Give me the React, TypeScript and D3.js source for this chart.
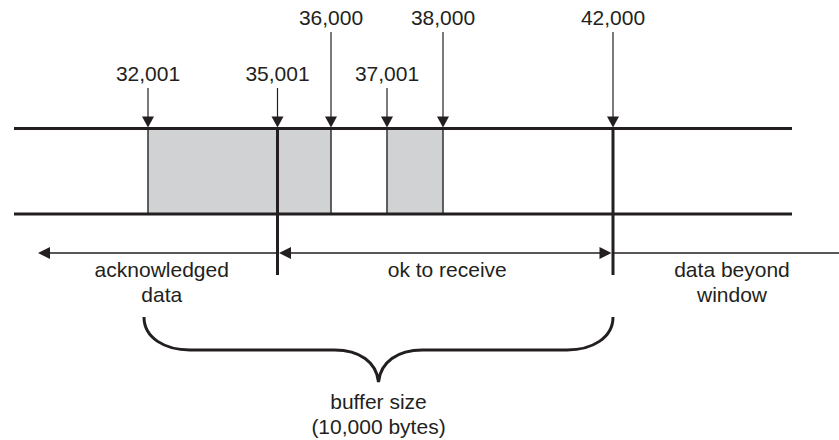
import React from "react";
import * as d3 from "d3";

// ---- data ----
const markerValues = [32001, 35001, 36000, 37001, 38000, 42000];
const markerLabels = ["32,001", "35,001", "36,000", "37,001", "38,000", "42,000"];
const markerTier = [0, 0, 1, 0, 1, 1]; // 0 = lower label row, 1 = upper label row
const receivedSegments: [number, number][] = [
  [32001, 36000],
  [37001, 38000],
];
const windowEdges = [35001, 42000];
const regionLabels = [["acknowledged", "data"], ["ok to receive"], ["data beyond", "window"]];
const braceSpan: [number, number] = [32001, 42000];
const braceLabel = ["buffer size", "(10,000 bytes)"];

// ---- layout ----
const W = 839;
const H = 440;
const INK = "#231f20";
const FILL = "#d1d2d4";
const FONT = "'Liberation Sans', Arial, Helvetica, sans-serif";
const FS = 21;

// diagram is not drawn to scale: piecewise linear scale through the marker stops
const x = d3
  .scaleLinear<number, number>()
  .domain(markerValues)
  .range([148, 277.5, 331, 387, 443, 613]);

const yTop = 128.5;
const yBot = 214;
const lineX0 = 14;
const lineX1 = 792;
const yArrowRow = 253;
const leftTip = 38;
const labelRowY = [81, 25];
const arrowStartY = [88, 32];

function downHead(cx: number, tipY: number) {
  const p = d3.path();
  p.moveTo(cx - 6, tipY - 11);
  p.lineTo(cx + 6, tipY - 11);
  p.lineTo(cx, tipY);
  p.closePath();
  return p.toString();
}
function sideHead(tipX: number, cy: number, dir: number) {
  // dir = -1 points left, +1 points right
  const p = d3.path();
  p.moveTo(tipX, cy);
  p.lineTo(tipX - dir * 12, cy - 6);
  p.lineTo(tipX - dir * 12, cy + 6);
  p.closePath();
  return p.toString();
}

function bracePath(x0: number, x1: number) {
  const yS = 317;
  const yH = 350;
  const yTip = 382;
  const xm = (x0 + x1) / 2;
  const p = d3.path();
  p.moveTo(x0, yS);
  p.bezierCurveTo(x0, yS + 21, x0 + 21, yH, x0 + 46, yH);
  p.lineTo(xm - 44, yH);
  p.bezierCurveTo(xm - 19, yH, xm - 2, yH + 12, xm, yTip);
  p.bezierCurveTo(xm + 2, yH + 12, xm + 19, yH, xm + 44, yH);
  p.lineTo(x1 - 46, yH);
  p.bezierCurveTo(x1 - 21, yH, x1, yS + 21, x1, yS);
  return p.toString();
}

export default function App() {
  const xa = x(windowEdges[0]);
  const xb = x(windowEdges[1]);
  const regionCenters = [(leftTip + xa) / 2 + 4, (xa + xb) / 2 + 2, (xb + W + 12) / 2];
  const braceX0 = x(braceSpan[0]) - 4;
  const braceX1 = x(braceSpan[1]);
  const braceMid = (braceX0 + braceX1) / 2;

  return (
    <svg
      width={W}
      height={H}
      style={{ position: "absolute", left: 0, top: 0, background: "#fff" }}
      fontFamily={FONT}
      fontSize={FS}
    >
      <rect x={0} y={0} width={W} height={H} fill="#fff" />
      {/* received segments */}
      {receivedSegments.map(([a, b], i) => (
        <g key={"seg" + i}>
          <rect x={x(a)} y={yTop} width={x(b) - x(a)} height={yBot - yTop} fill={FILL} />
          <line x1={x(a)} x2={x(a)} y1={yTop} y2={yBot} stroke="#3c3a3b" strokeWidth={1.6} />
          <line x1={x(b)} x2={x(b)} y1={yTop} y2={yBot} stroke="#3c3a3b" strokeWidth={1.6} />
        </g>
      ))}
      {/* buffer lines */}
      <line x1={lineX0} x2={lineX1} y1={yTop} y2={yTop} stroke={INK} strokeWidth={3} />
      <line x1={lineX0} x2={lineX1} y1={yBot} y2={yBot} stroke={INK} strokeWidth={3} />
      {/* window edges */}
      {windowEdges.map((v, i) => (
        <line key={"we" + i} x1={x(v)} x2={x(v)} y1={yTop} y2={275} stroke={INK} strokeWidth={3} />
      ))}
      {/* marker arrows and labels */}
      {markerValues.map((v, i) => {
        const cx = x(v);
        const t = markerTier[i];
        return (
          <g key={"m" + i}>
            <line x1={cx} x2={cx} y1={arrowStartY[t]} y2={yTop - 8} stroke={INK} strokeWidth={1.2} />
            <path d={downHead(cx, yTop - 1)} fill={INK} />
            <text x={cx} y={labelRowY[t]} textAnchor="middle" fill={INK}>
              {markerLabels[i]}
            </text>
          </g>
        );
      })}
      {/* region arrows */}
      <line x1={leftTip + 6} x2={xa} y1={yArrowRow} y2={yArrowRow} stroke={INK} strokeWidth={1.3} />
      <path d={sideHead(leftTip, yArrowRow, -1)} fill={INK} />
      <line x1={xa + 6} x2={xb - 6} y1={yArrowRow} y2={yArrowRow} stroke={INK} strokeWidth={1.3} />
      <path d={sideHead(xa + 1.5, yArrowRow, -1)} fill={INK} />
      <path d={sideHead(xb - 1.5, yArrowRow, 1)} fill={INK} />
      <line x1={xb} x2={W + 12} y1={yArrowRow} y2={yArrowRow} stroke={INK} strokeWidth={1.3} />
      {/* region labels */}
      {regionLabels.map((lines, i) => (
        <text key={"rl" + i} x={regionCenters[i]} y={277} textAnchor="middle" fill={INK}>
          {lines.map((s, j) => (
            <tspan key={j} x={regionCenters[i]} dy={j === 0 ? 0 : 24.5}>
              {s}
            </tspan>
          ))}
        </text>
      ))}
      {/* brace */}
      <path d={bracePath(braceX0, braceX1)} fill="none" stroke={INK} strokeWidth={3} />
      <text x={braceMid} y={409} textAnchor="middle" fill={INK}>
        {braceLabel.map((s, j) => (
          <tspan key={j} x={braceMid} dy={j === 0 ? 0 : 24.5}>
            {s}
          </tspan>
        ))}
      </text>
    </svg>
  );
}
